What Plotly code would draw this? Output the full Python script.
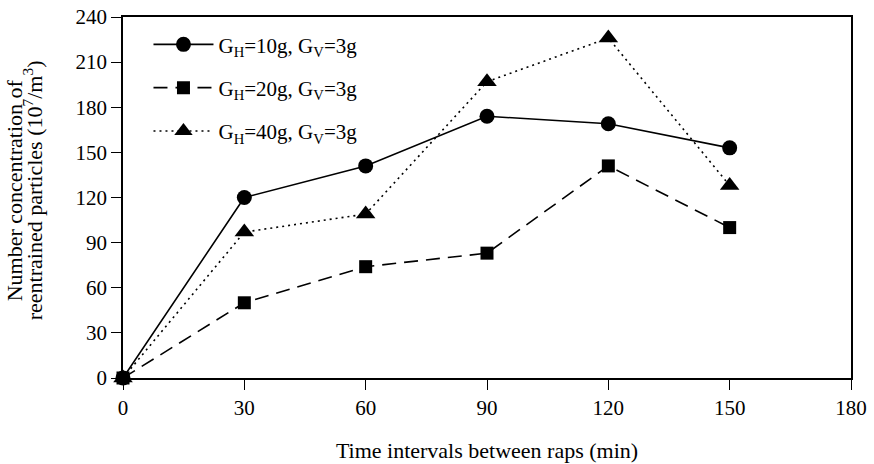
import plotly.graph_objects as go

time_min = [0, 30, 60, 90, 120, 150]
g10 = [0, 120, 141, 174, 169, 153]
g20 = [0, 50, 74, 83, 141, 100]
g40 = [0, 97, 109, 197, 226, 128]

names = ["G<sub>H</sub>=10g, G<sub>V</sub>=3g",
         "G<sub>H</sub>=20g, G<sub>V</sub>=3g",
         "G<sub>H</sub>=40g, G<sub>V</sub>=3g"]

FONT = "Liberation Serif, Times New Roman, serif"

fig = go.Figure()
fig.add_trace(go.Scatter(x=time_min, y=g10, name=names[0], mode="lines+markers",
                         line=dict(color="black", width=1.6, dash="solid"),
                         marker=dict(symbol="circle", size=15, color="black"),
                         cliponaxis=False, legendgroup="a"))
fig.add_trace(go.Scatter(x=time_min, y=g20, name=names[1], mode="lines+markers",
                         line=dict(color="black", width=1.6, dash="14px,8px"),
                         marker=dict(symbol="square", size=13, color="black"),
                         cliponaxis=False, legendgroup="b"))
fig.add_trace(go.Scatter(x=time_min, y=g40, name=names[2], mode="lines+markers",
                         line=dict(color="black", width=1.6, dash="2px,4px"),
                         marker=dict(symbol="triangle-up", size=17, color="black"),
                         cliponaxis=False, legendgroup="c"))

axis_common = dict(showline=True, linecolor="black", linewidth=1.5, mirror=True,
                   ticks="outside", ticklen=10, tickwidth=1.3, tickcolor="black",
                   showgrid=False, zeroline=False, automargin=False,
                   tickfont=dict(family=FONT, size=21, color="black"))

fig.update_xaxes(range=[0, 180], tickmode="array", tickvals=[0, 30, 60, 90, 120, 150, 180],
                 title=dict(text="Time intervals between raps (min)",
                            font=dict(family=FONT, size=22, color="black"), standoff=24),
                 **axis_common)
fig.update_yaxes(range=[0, 240], tickmode="array",
                 tickvals=[0, 30, 60, 90, 120, 150, 180, 210, 240], **axis_common)

fig.add_annotation(text="Number concentration of", textangle=-90, xref="paper", yref="paper",
                   x=0, y=0.52, xshift=-109, xanchor="center", yanchor="middle", showarrow=False,
                   font=dict(family=FONT, size=22, color="black"))
fig.add_annotation(text="reentrained particles (10<sup>7</sup>/m<sup>3</sup>)", textangle=-90,
                   xref="paper", yref="paper",
                   x=0, y=0.52, xshift=-90, xanchor="center", yanchor="middle", showarrow=False,
                   font=dict(family=FONT, size=22, color="black"))

fig.update_layout(
    width=874, height=464,
    margin=dict(l=123, r=23, t=17, b=86, autoexpand=False),
    plot_bgcolor="white", paper_bgcolor="white",
    showlegend=True,
    legend=dict(x=0.035, y=0.98, xanchor="left", yanchor="top",
                bgcolor="rgba(0,0,0,0)", borderwidth=0,
                tracegroupgap=13, itemwidth=60,
                font=dict(family=FONT, size=21, color="black")),
)

fig.write_html("out.html")
